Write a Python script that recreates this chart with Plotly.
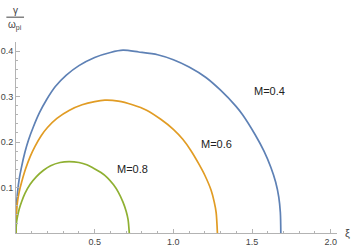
import plotly.graph_objects as go

# M = 0.4 (blue)
xi_m04 = [0, 0.001, 0.004, 0.01, 0.02, 0.035, 0.057, 0.08, 0.11, 0.15, 0.194, 0.25, 0.32, 0.4,
          0.5, 0.6, 0.68, 0.78, 0.9, 1.0, 1.1, 1.207, 1.3, 1.397, 1.44, 1.52, 1.576, 1.62,
          1.65, 1.67, 1.68, 1.683]
g_m04 = [0, 0.035, 0.065, 0.09, 0.118, 0.145, 0.178, 0.205, 0.233, 0.265, 0.293, 0.322, 0.347, 0.368,
         0.386, 0.397, 0.402, 0.398, 0.392, 0.381, 0.365, 0.342, 0.314, 0.279, 0.260, 0.216, 0.180, 0.144,
         0.112, 0.079, 0.045, 0]
# M = 0.6 (orange)
xi_m06 = [0, 0.001, 0.004, 0.01, 0.02, 0.036, 0.06, 0.09, 0.12, 0.16, 0.2, 0.26, 0.34, 0.42, 0.5,
          0.565, 0.65, 0.74, 0.83, 0.92, 1.0, 1.06, 1.11, 1.16, 1.2, 1.24, 1.26, 1.272, 1.28]
g_m06 = [0, 0.025, 0.05, 0.07, 0.09, 0.112, 0.14, 0.168, 0.19, 0.214, 0.232, 0.252, 0.27, 0.282, 0.289,
         0.292, 0.290, 0.282, 0.27, 0.25, 0.228, 0.206, 0.182, 0.153, 0.127, 0.094, 0.068, 0.045, 0]
# M = 0.8 (green)
xi_m08 = [0, 0.001, 0.004, 0.01, 0.02, 0.035, 0.057, 0.09, 0.13, 0.175, 0.22, 0.28, 0.337, 0.4,
          0.45, 0.49, 0.54, 0.58, 0.62, 0.65, 0.68, 0.7, 0.712, 0.72]
g_m08 = [0, 0.012, 0.025, 0.037, 0.052, 0.068, 0.087, 0.107, 0.124, 0.138, 0.148, 0.155, 0.157, 0.155,
         0.150, 0.143, 0.133, 0.122, 0.106, 0.09, 0.068, 0.048, 0.03, 0]

series = [
    ("M=0.4", xi_m04, g_m04, "#5E81B5", 1.61, 0.312),
    ("M=0.6", xi_m06, g_m06, "#E19C24", 1.275, 0.196),
    ("M=0.8", xi_m08, g_m08, "#8FB032", 0.74, 0.14),
]

x_major = [0.5, 1.0, 1.5, 2.0]
x_labels = ["0.5", "1.0", "1.5", "2.0"]
y_major = [0.1, 0.2, 0.3, 0.4]
y_labels = ["0.1", "0.2", "0.3", "0.4"]

fig = go.Figure()
for name, xs, ys, col, lx, ly in series:
    fig.add_trace(go.Scatter(x=xs, y=ys, mode="lines", name=name, hoverinfo="skip",
                             line=dict(color=col, width=1.7, shape="spline", smoothing=0.8)))
    fig.add_annotation(x=lx, y=ly, text=name, showarrow=False,
                       font=dict(family="Liberation Sans", size=11, color="#222"))

axcol = "#b3b3b3"
fig.update_layout(
    width=353, height=248,
    margin=dict(l=16, r=16, t=42, b=15),
    paper_bgcolor="white", plot_bgcolor="white",
    showlegend=False,
    font=dict(family="Liberation Sans", size=9, color="#444"),
    xaxis=dict(range=[0, 2.04], showgrid=False, zeroline=False, showline=True, automargin=False,
               linecolor=axcol, linewidth=1, ticks="inside", ticklen=4, tickcolor=axcol,
               tickvals=x_major, ticktext=x_labels,
               minor=dict(dtick=0.1, tick0=0, ticks="inside", ticklen=2, tickcolor=axcol),
               tickfont=dict(size=9, color="#444")),
    yaxis=dict(range=[0, 0.42], showgrid=False, zeroline=False, showline=True, automargin=False,
               linecolor=axcol, linewidth=1, ticks="inside", ticklen=4, tickcolor=axcol,
               tickvals=y_major, ticktext=y_labels,
               minor=dict(dtick=0.02, tick0=0, ticks="inside", ticklen=2, tickcolor=axcol),
               tickfont=dict(size=9, color="#444")),
)

# axis labels
fig.add_annotation(xref="paper", yref="paper", x=1.0, y=0.0, xshift=6,
                   text="ξ", showarrow=False, xanchor="left", yanchor="middle",
                   font=dict(family="Liberation Sans", size=11, color="#444"))
fig.add_annotation(xref="paper", yref="paper", x=0, y=1, xshift=-1, yshift=32,
                   text="γ", showarrow=False, xanchor="center", yanchor="middle",
                   font=dict(family="Liberation Sans", size=10, color="#444"))
fig.add_annotation(xref="paper", yref="paper", x=0, y=1, xshift=-1, yshift=17,
                   text="ω<sub>pi</sub>", showarrow=False, xanchor="center", yanchor="middle",
                   font=dict(family="Liberation Sans", size=10, color="#444"))
fig.add_shape(type="line", xref="paper", yref="paper", x0=-0.03, x1=0.025, y0=1.13, y1=1.13,
              line=dict(color="#444", width=1))

fig.write_html("out.html", config={"displayModeBar": False},
               post_script="document.body.style.margin='0';")
